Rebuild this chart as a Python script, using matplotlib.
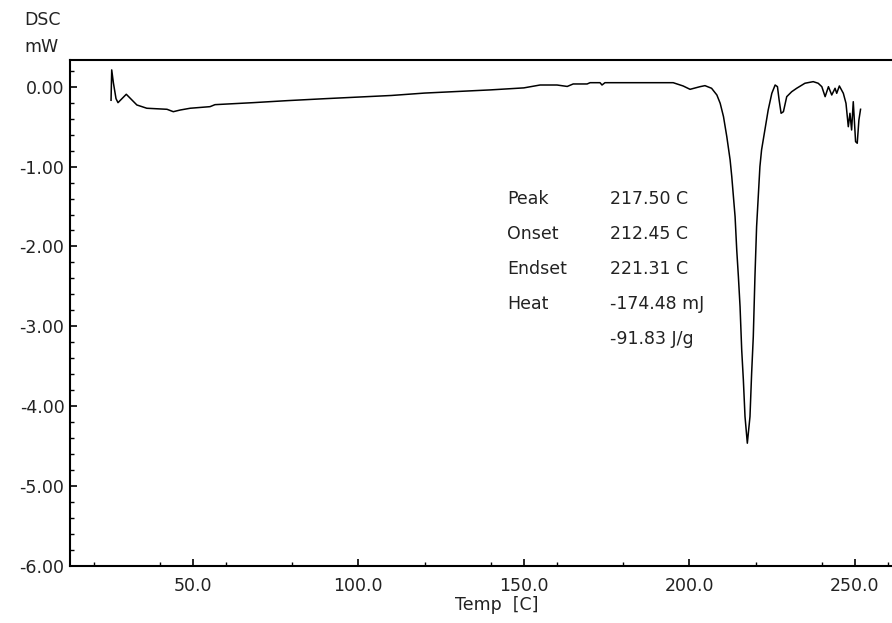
import matplotlib
matplotlib.use("Agg")
import matplotlib.pyplot as plt
from matplotlib.ticker import MultipleLocator, FormatStrFormatter

# Temperature (C) and DSC signal (mW)
temp = [25.3, 25.5, 26.0, 26.8, 27.4, 29.9, 33.1, 36.1, 42.2, 44.1, 46.2, 49.2,
        55.2, 56.7, 68.2, 78.4, 90.0, 100.0, 110.0, 120.0, 130.0, 140.0, 150.0,
        154.9, 160.0, 163.1, 164.9, 169.1, 170.0, 173.0, 173.6, 174.5, 195.1,
        198.1, 200.2, 203.2, 204.7, 206.7, 208.3, 209.3, 210.3, 211.3, 212.3,
        212.8, 213.3, 213.8, 214.3, 214.8, 215.3, 215.8, 216.3, 216.8, 217.5,
        218.3, 218.8, 219.3, 219.8, 220.3, 220.8, 221.3, 221.8, 222.8, 223.8,
        224.9, 225.9, 226.6, 227.1, 227.7, 228.4, 229.4, 230.9, 232.4, 234.9,
        237.4, 238.9, 240.0, 241.0, 242.0, 243.0, 244.0, 244.5, 245.3, 246.5,
        247.3, 248.0, 248.5, 249.0, 249.5, 250.2, 250.7, 251.2, 251.7]
dsc = [-0.17, 0.21, 0.05, -0.15, -0.20, -0.095, -0.229, -0.270, -0.283, -0.313,
       -0.292, -0.270, -0.250, -0.225, -0.200, -0.175, -0.150, -0.130, -0.110,
       -0.080, -0.060, -0.040, -0.015, 0.021, 0.021, 0.003, 0.034, 0.034, 0.050,
       0.050, 0.021, 0.050, 0.050, 0.009, -0.033, 0.0, 0.013, -0.020, -0.104,
       -0.208, -0.375, -0.626, -0.917, -1.126, -1.377, -1.627, -2.044, -2.378,
       -2.753, -3.295, -3.671, -4.130, -4.463, -4.130, -3.587, -3.129, -2.378,
       -1.752, -1.377, -1.001, -0.792, -0.542, -0.292, -0.083, 0.021, 0.0,
       -0.166, -0.333, -0.313, -0.125, -0.063, -0.020, 0.043, 0.063, 0.043, 0.0,
       -0.125, 0.0, -0.104, -0.020, -0.083, 0.009, -0.083, -0.208, -0.501,
       -0.333, -0.542, -0.188, -0.688, -0.708, -0.417, -0.283]

info_labels = ["Peak", "Onset", "Endset", "Heat", ""]
info_values = ["217.50 C", "212.45 C", "221.31 C", "-174.48 mJ", "-91.83 J/g"]

plt.rcParams['font.family'] = ['DejaVu Sans']
fig = plt.figure(figsize=(8.92, 6.23), dpi=100)
W, H = 892, 623
ax = fig.add_axes([70 / W, 1 - 566 / H, 1 - 70 / W, (566 - 60) / H])

ax.plot(temp, dsc, color='black', lw=1.1)
ax.set_xlim(12.9, 261.2)
ax.set_ylim(-6.0, 0.334)

ax.xaxis.set_major_locator(MultipleLocator(50))
ax.xaxis.set_minor_locator(MultipleLocator(20))
ax.yaxis.set_major_locator(MultipleLocator(1.0))
ax.yaxis.set_minor_locator(MultipleLocator(0.2))
ax.xaxis.set_major_formatter(FormatStrFormatter('%.1f'))
ax.yaxis.set_major_formatter(FormatStrFormatter('%.2f'))
ax.tick_params(which='major', direction='in', length=5, width=1.2,
               labelsize=12.5, pad=6, color='black', labelcolor='#222222')
ax.tick_params(which='minor', direction='in', length=3, width=1.0, color='black')
ax.tick_params(axis='y', which='both', pad=4)
ax.tick_params(axis='x', which='major', pad=8)
ax.spines['right'].set_visible(False)
for s in ['left', 'top', 'bottom']:
    ax.spines[s].set_linewidth(1.5)

fig.text(24 / W, 1 - 20 / H, "DSC", fontsize=12.5, ha='left', va='center', color='#222222')
fig.text(24 / W, 1 - 47 / H, "mW", fontsize=12.5, ha='left', va='center', color='#222222')
fig.text(497 / W, 1 - 605 / H, "Temp  [C]", fontsize=12.5, ha='center', va='center',
         color='#222222')

for i, (lab, val) in enumerate(zip(info_labels, info_values)):
    yy = 1 - (199 + 35 * i) / H
    if lab:
        fig.text(507 / W, yy, lab, fontsize=12.5, ha='left', va='center', color='#222222')
    fig.text(610 / W, yy, val, fontsize=12.5, ha='left', va='center', color='#222222')

fig.savefig("out.png", dpi=100)
